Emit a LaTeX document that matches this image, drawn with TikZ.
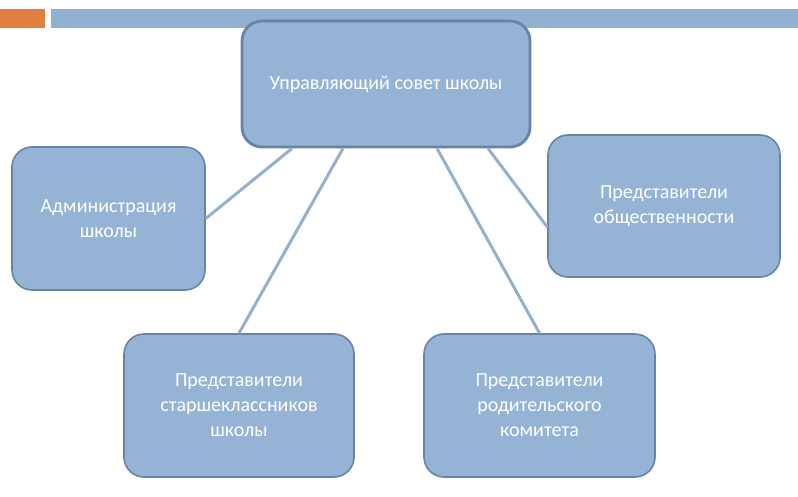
\documentclass[tikz,border=0pt]{standalone}
\usepackage{fontspec}
\setmainfont{Carlito}
\definecolor{boxfill}{HTML}{94B3D5}
\definecolor{boxline}{HTML}{6784A6}
\definecolor{linkline}{HTML}{93B1CF}
\definecolor{barblue}{HTML}{92B1D1}
\definecolor{barorange}{HTML}{E07F3F}
\tikzset{
	unit/.style = {draw = boxline, line width = 1.6pt, fill = boxfill, rounded corners = 20pt,
		inner sep = 0pt, align = center, text = white, font = \fontsize{20}{25}\selectfont},
	link/.style = {draw = linkline, line width = 3pt}
}
\begin{document}
\begin{tikzpicture}[x = 1pt, y = -1pt]
	\useasboundingbox (0,0) rectangle (798,497);
	\fill [barorange] (0,9) rectangle (45,28);
	\fill [barblue] (51,9) rectangle (798,28);
	\node [unit, line width = 2.8pt, minimum width = 288pt, minimum height = 126pt] (sovet) at (386,84) {Управляющий совет школы};
	\node [unit, minimum width = 193pt, minimum height = 143pt] (admin) at (108.5,218.5) {Администрация\\школы};
	\node [unit, minimum width = 232pt, minimum height = 142pt] (obsh) at (664,206) {Представители\\общественности};
	\node [unit, minimum width = 230pt, minimum height = 143pt] (uchen) at (239,405.5) {Представители\\старшеклассников\\школы};
	\node [unit, minimum width = 231pt, minimum height = 143pt] (rodit) at (539.5,405.5) {Представители\\родительского\\комитета};
	\draw [link] ([xshift = -94pt]sovet.south) -- (admin.east);
	\draw [link] ([xshift = -43pt]sovet.south) -- (uchen.north);
	\draw [link] ([xshift = 51pt]sovet.south) -- (rodit.north);
	\draw [link] ([xshift = 102pt]sovet.south) -- ([yshift = -21pt]obsh.west);
\end{tikzpicture}
\end{document}
